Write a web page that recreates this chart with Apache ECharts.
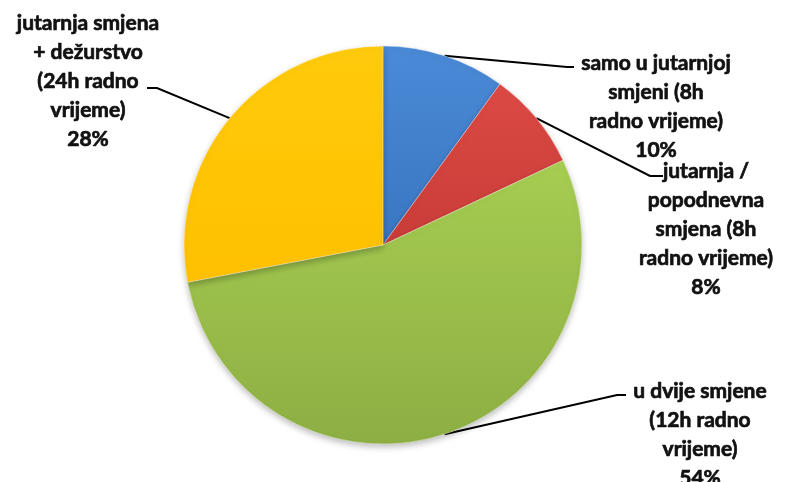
<!DOCTYPE html>
<html>
<head>
<meta charset="utf-8">
<script src="https://cdn.jsdelivr.net/npm/echarts@6/dist/echarts.min.js"></script>
<style>
html,body{margin:0;padding:0;background:#fff;}
#chart{width:790px;height:482px;}
</style>
</head>
<body>
<div id="chart"></div>
<script>
// ---- data ----
var categories = [
  'samo u jutarnjoj\nsmjeni (8h\nradno vrijeme)',
  'jutarnja /\npopodnevna\nsmjena (8h\nradno vrijeme)',
  'u dvije smjene\n(12h radno\nvrijeme)',
  'jutarnja smjena\n+ dežurstvo\n(24h radno\nvrijeme)'
];
var values = [10, 8, 54, 28];
var colorsTop = ['#4A8AD6', '#DC4A45', '#A7CD52', '#FFCB0C'];
var colorsBottom = ['#3A76C2', '#C93C38', '#8DAE43', '#FFC000'];

// ---- label layout (positions only) ----
var labelPos = [
  {x: 656, y: 49,  elbow: [567, 67],  end: [574, 67]},
  {x: 706, y: 157, elbow: [650, 176], end: [663, 176]},
  {x: 700, y: 377, elbow: [617, 395], end: [626, 395]},
  {x: 88,  y: 9,   elbow: [157, 88],  end: [147, 88]}
];

var chart = echarts.init(document.getElementById('chart'));
var cx = 383, cy = 245, R = 199;

var data = categories.map(function (c, i) {
  return {
    name: c,
    value: values[i],
    itemStyle: {
      color: new echarts.graphic.LinearGradient(0, 0, 0, 1, [
        {offset: 0, color: colorsTop[i]},
        {offset: 1, color: colorsBottom[i]}
      ])
    }
  };
});

chart.setOption({
  animation: false,
  backgroundColor: '#ffffff',
  series: [{
    type: 'pie',
    center: [cx, cy],
    radius: [0, R],
    startAngle: 90,
    clockwise: true,
    data: data,
    itemStyle: {
      borderColor: 'rgba(255,255,255,0.35)',
      borderWidth: 1,
      shadowBlur: 6,
      shadowColor: 'rgba(0,0,0,0.25)',
      shadowOffsetY: 3
    },
    label: {
      show: true,
      position: 'outside',
      formatter: '{b}\n{d}%',
      fontFamily: 'Lato',
      fontWeight: 'bold',
      fontSize: 21,
      lineHeight: 29,
      color: '#111111',
      textBorderColor: '#111111',
      textBorderWidth: 0.7,
      align: 'center'
    },
    labelLine: {
      show: true,
      smooth: false,
      lineStyle: {color: '#000', width: 2}
    },
    labelLayout: function (params) {
      var p = labelPos[params.dataIndex];
      var start;
      if (params.labelLinePoints && params.labelLinePoints[0]) {
        start = params.labelLinePoints[0];
      } else {
        start = [cx, cy];
      }
      return {
        x: p.x,
        y: p.y,
        align: 'center',
        verticalAlign: 'top',
        labelLinePoints: [start, p.elbow, p.end]
      };
    }
  }]
});
</script>
</body>
</html>
